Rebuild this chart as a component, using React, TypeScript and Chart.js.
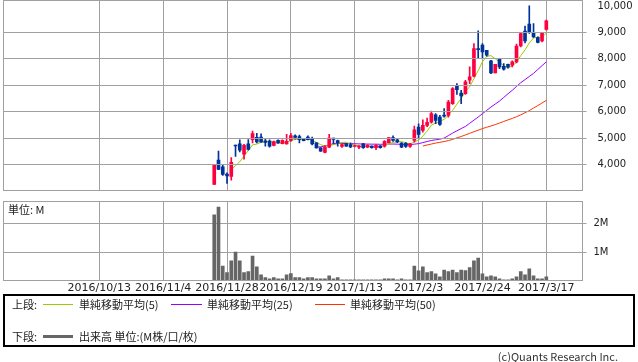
import React, { useEffect, useRef } from 'react';
import { Chart, registerables } from 'chart.js';

Chart.register(...registerables);

// ---- categories (trading days shown on the axis) ----
const START_DATE = '2016/9/8';
const END_DATE = '2017/3/30';
const HOLIDAYS = ['2016/9/19', '2016/9/22', '2016/10/10', '2016/11/3', '2016/11/23', '2016/12/23', '2017/1/2', '2017/1/3', '2017/1/9', '2017/3/20'];
const TICK_DATES = ['2016/10/13', '2016/11/4', '2016/11/28', '2016/12/19', '2017/1/13', '2017/2/3', '2017/2/24', '2017/3/17'];
const PRICE_TICKS = [4000, 5000, 6000, 7000, 8000, 9000, 10000];
const PRICE_GRID = [4000, 5000, 6000, 7000, 8000, 9000];
const VOLUME_TICKS = [1, 2];

function fmt(d: Date) {
  return `${d.getFullYear()}/${d.getMonth() + 1}/${d.getDate()}`;
}
function tradingDays(): string[] {
  const [ys, ms, ds] = START_DATE.split('/').map(Number);
  const d = new Date(ys, ms - 1, ds);
  const out: string[] = [];
  for (let guard = 0; guard < 400; guard++) {
    const s = fmt(d);
    const wd = d.getDay();
    if (wd !== 0 && wd !== 6 && !HOLIDAYS.includes(s)) out.push(s);
    if (s === END_DATE) break;
    d.setDate(d.getDate() + 1);
  }
  return out;
}
const dates = tradingDays();

// ---- price series (from 2016/11/22) ----
const FIRST_DATE = '2016/11/22';
const opens = [3245, 4166, 3908, 3638, 3552, 4720, 4780, 4387, 4780, 4939, 5025, 5037, 4900, 4890, 4720, 4914, 4790, 4779, 4914, 5086, 5062, 4975, 5037, 4963, 4816, 4632, 4460, 4658, 5000, 4902, 4683, 4780, 4756, 4683, 4658, 4780, 4658, 4695, 4634, 4707, 4695, 4830, 5024, 4939, 4810, 4800, 4683, 4911, 5417, 5291, 5480, 5607, 5886, 5797, 5861, 5861, 6303, 7000, 6709, 6683, 7190, 7342, 8392, 8519, 8329, 7924, 7468, 8013, 7721, 7797, 7759, 7886, 8494, 9051, 9317, 9000, 8810, 8684, 9114];
const highs = [3994, 4509, 3982, 3687, 4264, 4740, 4939, 4760, 4940, 5270, 5184, 5160, 4963, 4939, 4890, 4930, 4939, 5147, 5184, 5120, 5110, 4990, 5086, 5037, 4830, 4640, 4718, 5146, 5000, 4927, 4780, 4800, 4817, 4740, 4720, 4800, 4750, 4710, 4756, 4720, 4902, 5024, 5085, 4960, 4830, 4830, 4800, 5455, 5544, 5696, 5760, 6025, 5924, 5861, 6114, 6430, 6911, 7063, 6810, 7190, 7696, 8582, 9063, 8582, 8329, 7950, 7797, 8013, 7823, 7800, 7924, 8557, 9000, 9241, 10013, 9342, 8835, 8987, 9468];
const lows = [3245, 3800, 3589, 3282, 3405, 4310, 4472, 4203, 4546, 4816, 4816, 4840, 4693, 4656, 4700, 4800, 4780, 4770, 4877, 4963, 4816, 4890, 4930, 4742, 4620, 4500, 4435, 4634, 4780, 4695, 4650, 4680, 4634, 4670, 4600, 4610, 4640, 4620, 4560, 4620, 4658, 4817, 4878, 4830, 4640, 4650, 4650, 4848, 5012, 5227, 5430, 5570, 5544, 5480, 5797, 5797, 6278, 6658, 6303, 6658, 7063, 7316, 8013, 8013, 8101, 7443, 7468, 7633, 7569, 7650, 7700, 7848, 8456, 8608, 8962, 8810, 8608, 8646, 9089];
const closes = [3994, 3810, 3626, 3564, 4080, 4700, 4546, 4730, 4570, 5172, 4853, 4853, 4840, 4693, 4870, 4816, 4914, 4877, 5098, 5025, 4939, 4900, 4939, 4779, 4632, 4509, 4656, 5000, 4951, 4817, 4756, 4695, 4670, 4720, 4695, 4634, 4730, 4634, 4730, 4634, 4878, 5024, 4914, 4854, 4658, 4680, 4780, 5316, 5139, 5481, 5600, 5924, 5671, 5519, 5835, 6367, 6873, 6835, 6595, 7127, 7316, 8392, 8354, 8266, 8139, 7468, 7797, 7696, 7607, 7696, 7886, 8481, 8962, 8684, 9000, 8835, 8620, 8987, 9443];
// volume in millions
const volumes = [2.30, 2.58, 0.51, 0.28, 0.69, 1.00, 0.69, 0.28, 0.31, 0.86, 0.48, 0.20, 0.10, 0.06, 0.10, 0.06, 0.06, 0.20, 0.24, 0.10, 0.10, 0.06, 0.10, 0.10, 0.06, 0.06, 0.06, 0.16, 0.06, 0.10, 0.02, 0.02, 0.02, 0.02, 0.02, 0.02, 0.02, 0.02, 0.02, 0.02, 0.06, 0.06, 0.06, 0.02, 0.06, 0.02, 0.02, 0.51, 0.34, 0.48, 0.28, 0.31, 0.23, 0.13, 0.37, 0.31, 0.37, 0.28, 0.37, 0.35, 0.45, 0.69, 0.79, 0.23, 0.13, 0.16, 0.13, 0.06, 0.02, 0.02, 0.06, 0.13, 0.31, 0.20, 0.41, 0.16, 0.06, 0.06, 0.13];

// ---- moving averages ----
const MA5_START = '2016/11/29';
const ma5 = [3815, 3956, 4103, 4324, 4525, 4744, 4774, 4836, 4858, 4882, 4822, 4814, 4827, 4834, 4915, 4946, 4971, 4968, 4980, 4916, 4838, 4752, 4703, 4715, 4750, 4787, 4836, 4844, 4778, 4732, 4707, 4683, 4690, 4683, 4685, 4672, 4721, 4780, 4836, 4861, 4866, 4826, 4777, 4858, 4915, 5079, 5263, 5492, 5563, 5639, 5710, 5863, 6053, 6286, 6501, 6759, 6949, 7253, 7557, 7891, 8093, 8124, 8005, 7873, 7741, 7653, 7736, 7873, 8126, 8342, 8603, 8792, 8820, 8825, 8977];
const MA25_START = '2016/12/28';
const ma25 = [4660, 4670, 4700, 4745, 4790, 4800, 4800, 4795, 4790, 4785, 4780, 4775, 4775, 4770, 4770, 4765, 4770, 4775, 4775, 4770, 4760, 4755, 4755, 4770, 4790, 4830, 4870, 4910, 4935, 4960, 5000, 5095, 5190, 5275, 5360, 5443, 5560, 5680, 5797, 5925, 6050, 6177, 6290, 6400, 6540, 6680, 6810, 6955, 7100, 7215, 7335, 7450, 7600, 7745, 7890];
const MA50_START = '2017/2/6';
const ma50 = [4700, 4740, 4775, 4810, 4840, 4870, 4905, 4950, 5010, 5060, 5120, 5180, 5240, 5300, 5360, 5410, 5460, 5510, 5570, 5630, 5690, 5745, 5810, 5880, 5960, 6040, 6140, 6230, 6330, 6430];

const UP = '#ff0040';
const DOWN = '#003399';
const GRID = '#a0a0a0';
const CLEAR = 'rgba(0,0,0,0)';
const TXT = '#222222';
const CJK = '"Noto Sans CJK JP", "DejaVu Sans", sans-serif';

function place<T>(arr: T[], start: string): (T | null)[] {
  const s = dates.indexOf(start);
  return dates.map((_, i) => (i - s >= 0 && i - s < arr.length ? arr[i - s] : null));
}

// horizontal price grid lines (with short outer tick marks) + panel frame, positioned by the scales
const framePlugin = {
  id: 'frame',
  afterDraw(chart: any) {
    const { ctx, chartArea: a } = chart;
    ctx.save();
    ctx.strokeStyle = GRID;
    ctx.lineWidth = 1;
    if (chart.canvas && chart.canvas.dataset && chart.canvas.dataset.panel === 'price') {
      const y = chart.scales.y;
      for (const v of PRICE_GRID) {
        const py = Math.round(y.getPixelForValue(v) - 0.5) + 0.5;
        ctx.beginPath();
        ctx.moveTo(a.left, py);
        ctx.lineTo(a.right + 4, py);
        ctx.stroke();
      }
    }
    ctx.strokeRect(a.left, a.top, a.right - a.left, a.bottom - a.top);
    ctx.restore();
  },
};

const tickSet = new Set(TICK_DATES);
const xGridColors = dates.map((d) => (tickSet.has(d) ? GRID : CLEAR));
const noPad = (s: any) => {
  s.paddingTop = 0;
  s.paddingBottom = 0;
  s.paddingLeft = 0;
  s.paddingRight = 0;
};

export default function App() {
  const priceRef = useRef<HTMLCanvasElement>(null);
  const volRef = useRef<HTMLCanvasElement>(null);

  useEffect(() => {
    const openP = place(opens, FIRST_DATE);
    const closeP = place(closes, FIRST_DATE);
    const highP = place(highs, FIRST_DATE);
    const lowP = place(lows, FIRST_DATE);
    const colors = dates.map((_, i) =>
      openP[i] != null && (closeP[i] as number) >= (openP[i] as number) ? UP : DOWN
    );
    const wickData = dates.map((_, i) => (highP[i] == null ? null : [lowP[i], highP[i]]));
    const bodyData = dates.map((_, i) => (openP[i] == null ? null : [openP[i], closeP[i]]));

    const price = new Chart(priceRef.current!, {
      type: 'bar',
      data: {
        labels: dates,
        datasets: [
          { type: 'bar', data: wickData as any, backgroundColor: colors, barThickness: 1, grouped: false, borderWidth: 0 },
          { type: 'bar', data: bodyData as any, backgroundColor: colors, barThickness: 3, grouped: false, borderWidth: 0, minBarLength: 1 },
          { type: 'line', data: place(ma5, MA5_START) as any, borderColor: '#99cc00', borderWidth: 1, pointRadius: 0, fill: false, spanGaps: false },
          { type: 'line', data: place(ma25, MA25_START) as any, borderColor: '#9900ff', borderWidth: 1, pointRadius: 0, fill: false, spanGaps: false },
          { type: 'line', data: place(ma50, MA50_START) as any, borderColor: '#ff3300', borderWidth: 1, pointRadius: 0, fill: false, spanGaps: false },
        ],
      },
      options: {
        responsive: false,
        maintainAspectRatio: false,
        animation: false,
        devicePixelRatio: 1,
        layout: { padding: { left: 3.5, top: 0.5, right: 0, bottom: 0 } },
        plugins: { legend: { display: false }, tooltip: { enabled: false } },
        scales: {
          x: {
            type: 'category',
            offset: true,
            grid: { offset: false, drawTicks: false, color: xGridColors },
            border: { display: false },
            ticks: { display: false, autoSkip: false },
            afterFit: (s: any) => { s.height = 1.5; noPad(s); },
          },
          y: {
            position: 'right',
            min: 3015,
            max: 10212,
            afterBuildTicks: (s: any) => { s.ticks = PRICE_TICKS.map((v) => ({ value: v })); },
            grid: { display: false, tickLength: 4 },
            border: { display: false },
            ticks: {
              padding: 11,
              color: TXT,
              font: { family: 'DejaVu Sans', size: 10 },
              callback: (v: any) => Number(v).toLocaleString('en-US'),
            },
            afterFit: (s: any) => { s.width = 55.5; noPad(s); },
          },
        },
      } as any,
      plugins: [framePlugin],
    });

    const vol = new Chart(volRef.current!, {
      type: 'bar',
      data: {
        labels: dates,
        datasets: [
          { data: place(volumes, FIRST_DATE) as any, backgroundColor: '#666666', barThickness: 3, borderWidth: 0 },
        ],
      },
      options: {
        responsive: false,
        maintainAspectRatio: false,
        animation: false,
        devicePixelRatio: 1,
        layout: { padding: { left: 3.5, top: 6.5, right: 0, bottom: 0 } },
        plugins: { legend: { display: false }, tooltip: { enabled: false } },
        scales: {
          x: {
            type: 'category',
            offset: true,
            grid: { offset: false, drawTicks: false, color: xGridColors },
            border: { display: false },
            ticks: {
              autoSkip: false,
              maxRotation: 0,
              minRotation: 0,
              padding: 1,
              color: TXT,
              font: { family: 'DejaVu Sans', size: 11 },
              callback: (v: any) => (tickSet.has(dates[v]) ? dates[v] : ''),
            },
            afterFit: (s: any) => { s.height = 19.5; noPad(s); },
          },
          y: {
            position: 'right',
            min: 0,
            max: 2.772,
            afterBuildTicks: (s: any) => { s.ticks = VOLUME_TICKS.map((v) => ({ value: v })); },
            grid: { color: GRID, tickLength: 4 },
            ticks: {
              padding: 7,
              color: TXT,
              font: { family: 'DejaVu Sans', size: 10 },
              callback: (v: any) => `${v}M`,
            },
            afterFit: (s: any) => { s.width = 55.5; noPad(s); },
          },
        },
      } as any,
      plugins: [framePlugin],
    });

    return () => {
      price.destroy();
      vol.destroy();
    };
  }, []);

  const abs = (left: number, top: number, extra: React.CSSProperties = {}): React.CSSProperties => ({
    position: 'absolute', left, top, ...extra,
  });
  const txt: React.CSSProperties = { fontFamily: CJK, fontSize: 11, lineHeight: '14px', color: TXT, whiteSpace: 'nowrap' };

  return (
    <div style={{ position: 'absolute', left: 0, top: 0, width: 638, height: 362, background: '#ffffff', overflow: 'hidden' }}>
      <canvas ref={priceRef} data-panel="price" width={638} height={192} style={abs(0, 0, { width: 638, height: 192 })} />
      <canvas ref={volRef} data-panel="volume" width={638} height={105} style={abs(0, 195, { width: 638, height: 105 })} />
      <div style={{ ...abs(8, 202), ...txt }}>単位: M</div>

      <div style={abs(3, 294, { width: 632, height: 53, border: '2px solid #000', boxSizing: 'border-box' })} />
      <div style={{ ...abs(12, 297), ...txt }}>上段:</div>
      <div style={abs(43, 304, { width: 30, height: 1, background: '#99cc00' })} />
      <div style={{ ...abs(79, 297), ...txt }}>単純移動平均(5)</div>
      <div style={abs(171, 304, { width: 31, height: 1, background: '#9900ff' })} />
      <div style={{ ...abs(207, 297), ...txt }}>単純移動平均(25)</div>
      <div style={abs(315, 304, { width: 30, height: 1, background: '#ff3300' })} />
      <div style={{ ...abs(350, 297), ...txt }}>単純移動平均(50)</div>

      <div style={{ ...abs(12, 329), ...txt }}>下段:</div>
      <div style={abs(43, 335, { width: 30, height: 3, background: '#666666' })} />
      <div style={{ ...abs(79, 329), ...txt }}>出来高 単位:(M株/口/枚)</div>

      <div style={{ position: 'absolute', right: 20, top: 349, ...txt, color: '#333333' }}>(c)Quants Research Inc.</div>
    </div>
  );
}
